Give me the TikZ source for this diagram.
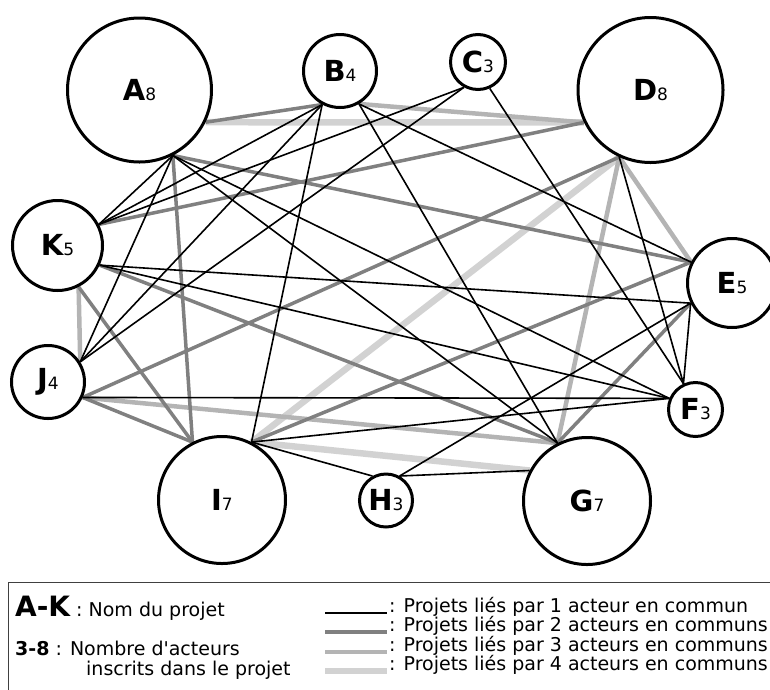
\documentclass[tikz,border=0pt]{standalone}
\usepackage{fontspec}
\setmainfont{DejaVu Sans}[Ligatures=TeXOff]
\pgfdeclarelayer{edges}
\pgfsetlayers{edges,main}
\definecolor{c2}{HTML}{808080}
\definecolor{c3}{HTML}{B4B4B4}
\definecolor{c4}{HTML}{D2D2D2}
\newcommand{\lab}[2]{{\fontsize{29}{29}\selectfont\bfseries #1}{\fontsize{17}{17}\selectfont #2}}
\tikzset{
  proj/.style={circle, draw=black, line width=3pt, fill=white, inner sep=0pt},
  w1/.style={line width=1.6pt, draw=black},
  w2/.style={line width=3.5pt, draw=c2},
  w3/.style={line width=4.5pt, draw=c3},
  w4/.style={line width=6.5pt, draw=c4},
  legtxt/.style={anchor=base west, inner sep=0pt, font=\fontsize{19}{19}\selectfont},
}
\begin{document}
\begin{tikzpicture}[x=1pt,y=-1pt]
\useasboundingbox (0,0) rectangle (770,689);
% project nodes
\node[proj, minimum size=144pt] (A) at (139.5,90) {\lab{A}{8}};
\node[proj, minimum size=73pt]  (B) at (340,71) {\lab{B}{4}};
\node[proj, minimum size=55pt]  (C) at (478,62) {\lab{C}{3}};
\node[proj, minimum size=145pt] (D) at (650.5,90) {\lab{D}{8}};
\node[proj, minimum size=89pt]  (E) at (732,283) {\lab{E}{5}};
\node[proj, minimum size=54pt]  (F) at (695.5,409.5) {\lab{F}{3}};
\node[proj, minimum size=127pt] (G) at (587,501) {\lab{G}{7}};
\node[proj, minimum size=53pt]  (H) at (386,500.5) {\lab{H}{3}};
\node[proj, minimum size=127pt] (I) at (222,500) {\lab{I}{7}};
\node[proj, minimum size=73pt]  (J) at (48,382) {\lab{J}{4}};
\node[proj, minimum size=90pt]  (K) at (57.5,245.5) {\lab{K}{5}};
\begin{pgfonlayer}{edges}
% weight 4
\draw[w4] (A.-26) -- (D.-154);
\draw[w4] (D.-115) -- (I.63);
\draw[w4] (I.63) -- (G.152);
% weight 3
\draw[w3] (B.-60) -- (D.-154);
\draw[w3] (D.-115) -- (G.117);
\draw[w3] (D.-115) -- (E.153);
\draw[w3] (K.-63) -- (J.32);
\draw[w3] (J.-24) -- (G.117);
% weight 2
\draw[w2] (A.-26) -- (B.-118);
\draw[w2] (A.-63) -- (I.117);
\draw[w2] (A.-63) -- (E.153);
\draw[w2] (K.27) -- (D.-154);
\draw[w2] (K.-63) -- (I.117);
\draw[w2] (K.-25) -- (G.117);
\draw[w2] (J.-24) -- (D.-115);
\draw[w2] (J.-24) -- (I.117);
\draw[w2] (I.63) -- (E.153);
\draw[w2] (G.117) -- (E.-154);
% weight 1
\draw[w1] (A.-63) -- (K.27);
\draw[w1] (A.-63) -- (J.32);
\draw[w1] (A.-63) -- (F.157);
\draw[w1] (A.-63) -- (G.117);
\draw[w1] (B.-118) -- (K.27);
\draw[w1] (B.-118) -- (J.32);
\draw[w1] (B.-118) -- (I.63);
\draw[w1] (B.-60) -- (E.153);
\draw[w1] (B.-60) -- (G.117);
\draw[w1] (C.-119) -- (K.27);
\draw[w1] (C.-119) -- (J.32);
\draw[w1] (C.-66) -- (F.115);
\draw[w1] (D.-115) -- (F.115);
\draw[w1] (E.-154) -- (K.-25);
\draw[w1] (E.-154) -- (F.115);
\draw[w1] (E.-154) -- (H.61);
\draw[w1] (F.157) -- (J.-24);
\draw[w1] (F.157) -- (I.63);
\draw[w1] (F.157) -- (K.-25);
\draw[w1] (H.119) -- (I.63);
\draw[w1] (H.61) -- (G.152);
\end{pgfonlayer}
% legend
\draw[line width=1pt, black!75] (8.5,582.5) rectangle (790,700);
\node[anchor=base west, inner sep=0pt] (lgAK) at (15,616)
  {{\fontsize{28}{28}\selectfont\bfseries A-K}\fontsize{19}{19}\selectfont\ : Nom du projet};
\node[legtxt] (lg38) at (15,655) {{\bfseries 3-8} : Nombre d'acteurs};
\node[legtxt] (lg38b) at (86,675) {inscrits dans le projet};
\coordinate (l1a) at (325,613); \coordinate (l1b) at (387,613);
\coordinate (l2a) at (325,632); \coordinate (l2b) at (387,632);
\coordinate (l3a) at (325,652); \coordinate (l3b) at (387,652);
\coordinate (l4a) at (325,671); \coordinate (l4b) at (387,671);
\draw[w1] (l1a) -- (l1b);
\draw[w2] (l2a) -- (l2b);
\draw[w3] (l3a) -- (l3b);
\draw[w4] (l4a) -- (l4b);
\node[legtxt] (t1) at (389,612) {: Projets liés par 1 acteur en commun};
\node[legtxt] (t2) at (389,631.5) {: Projets liés par 2 acteurs en communs};
\node[legtxt] (t3) at (389,651) {: Projets liés par 3 acteurs en communs};
\node[legtxt] (t4) at (389,670.5) {: Projets liés par 4 acteurs en communs};
\end{tikzpicture}
\end{document}
